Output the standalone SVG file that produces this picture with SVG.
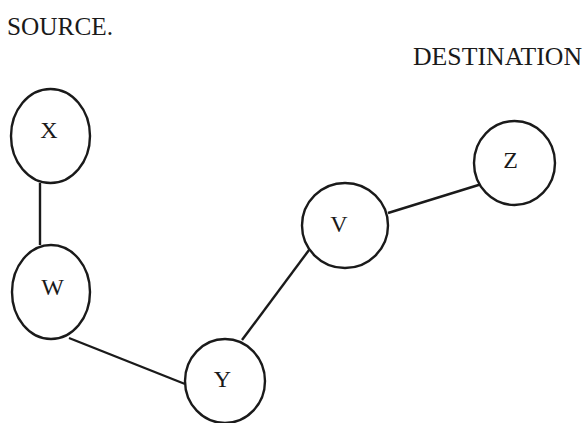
<svg xmlns="http://www.w3.org/2000/svg" width="584" height="423" viewBox="0 0 584 423">
  <style>
    .node { fill: #ffffff; stroke: #1a1a1a; stroke-width: 2.4; }
    .edge { stroke: #1a1a1a; stroke-width: 2.4; fill: none; }
    .lbl { font-family: "Liberation Serif", "Times New Roman", serif; font-size: 24px; fill: #1a1a1a; text-anchor: middle; }
    .cap { font-family: "Liberation Serif", "Times New Roman", serif; font-size: 26px; fill: #1a1a1a; }
  </style>
  <rect width="584" height="423" fill="#ffffff"/>

  <text class="cap" x="7" y="35" textLength="106" lengthAdjust="spacingAndGlyphs">SOURCE.</text>
  <text class="cap" x="413" y="65" textLength="169" lengthAdjust="spacingAndGlyphs">DESTINATION</text>

  <g id="connectors">
    <line class="edge" x1="40" y1="183" x2="40" y2="245"/>
    <line class="edge" x1="69" y1="338" x2="185" y2="384"/>
    <line class="edge" x1="242" y1="340" x2="312" y2="246"/>
    <line class="edge" x1="388" y1="213" x2="485" y2="183"/>
  </g>

  <g id="node-X">
    <ellipse class="node" cx="50.5" cy="136" rx="39.5" ry="47"/>
    <text class="lbl" x="49" y="138">X</text>
  </g>
  <g id="node-W">
    <ellipse class="node" cx="51" cy="292" rx="39" ry="47"/>
    <text class="lbl" x="52.5" y="295">W</text>
  </g>
  <g id="node-Y">
    <ellipse class="node" cx="225" cy="381" rx="40" ry="42"/>
    <text class="lbl" x="222.5" y="387">Y</text>
  </g>
  <g id="node-V">
    <ellipse class="node" cx="345" cy="225.5" rx="43" ry="42.5"/>
    <text class="lbl" x="339" y="232">V</text>
  </g>
  <g id="node-Z">
    <ellipse class="node" cx="514.5" cy="163" rx="40.5" ry="42"/>
    <text class="lbl" x="510.5" y="168">Z</text>
  </g>
</svg>
